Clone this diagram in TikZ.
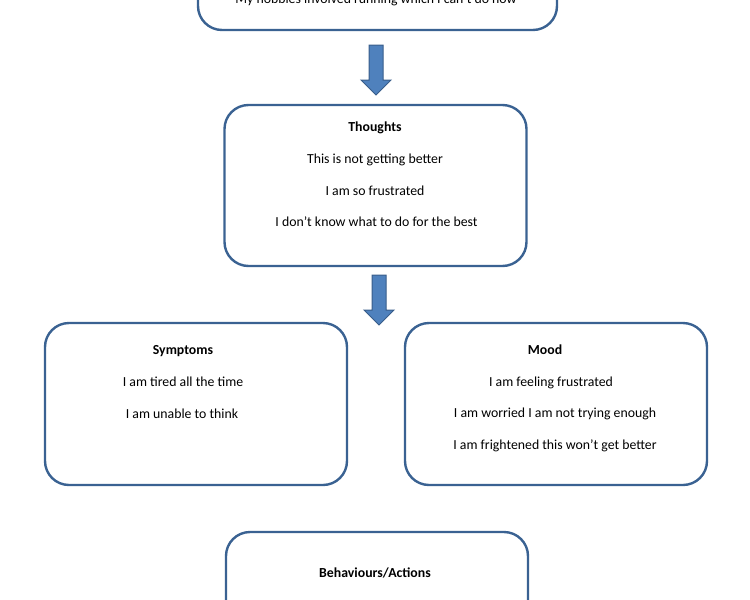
\documentclass[tikz,border=0pt]{standalone}
\usepackage{fontspec}
\setmainfont{Carlito}
\usetikzlibrary{positioning}
\definecolor{boxblue}{RGB}{58,98,146}
\definecolor{arrowfill}{RGB}{79,129,189}
\definecolor{arrowline}{RGB}{56,93,138}

\tikzset{
	card/.style={draw=boxblue, line width=2.4pt, rounded corners=24pt,
		minimum width=302pt, minimum height=162pt, inner sep=0pt},
	say/.style={anchor=base, inner sep=0pt, font=\fontsize{13.8}{16}\selectfont},
	head/.style={say, font=\fontsize{13.8}{16}\selectfont\bfseries},
	blockarrow/.pic={
		\filldraw[fill=arrowfill, draw=arrowline, line width=1pt]
			(-7,0) -- (-7,-35) -- (-15,-35) -- (0,-50) -- (15,-35) -- (7,-35) -- (7,0) -- cycle;
	},
}

\begin{document}
\begin{tikzpicture}[x=1pt, y=1pt]
		\useasboundingbox (0,0) rectangle (750,-600);
		%
		\node[card, minimum width=359pt] (trigger) at (377.5,51) {};
		\node[card, minimum height=161pt] (thoughts) at (375.5,-185.5) {};
		\node[card] (symptoms) at (196,-404) {};
		\node[card] (mood) at (556,-404) {};
		\node[card] (actions) at (377,-613) {};
		%
		\coordinate (arrowA) at (376,-45);
		\coordinate (arrowB) at (379,-275);
		\pic at (arrowA) {blockarrow};
		\pic at (arrowB) {blockarrow};
		%
		\node[say] (triggerA) at (376,-3) {My hobbies involved running which I can’t do now};
		%
		\node[head] (thoughtsT) at (375,-131) {Thoughts};
		\node[say] (thoughtsA) at (375,-163) {This is not getting better};
		\node[say] (thoughtsB) at (375,-195) {I am so frustrated};
		\node[say] (thoughtsC) at (376.5,-226) {I don’t know what to do for the best};
		%
		\node[head] (symptomsT) at (183,-354) {Symptoms};
		\node[say] (symptomsA) at (183,-386) {I am tired all the time};
		\node[say] (symptomsB) at (182,-418) {I am unable to think};
		%
		\node[head] (moodT) at (545,-354) {Mood};
		\node[say] (moodA) at (551,-386) {I am feeling frustrated};
		\node[say] (moodB) at (555,-417) {I am worried I am not trying enough};
		\node[say] (moodC) at (555,-449) {I am frightened this won’t get better};
		%
		\node[head] (actionsT) at (375,-577) {Behaviours/Actions};
	\end{tikzpicture}
\end{document}
